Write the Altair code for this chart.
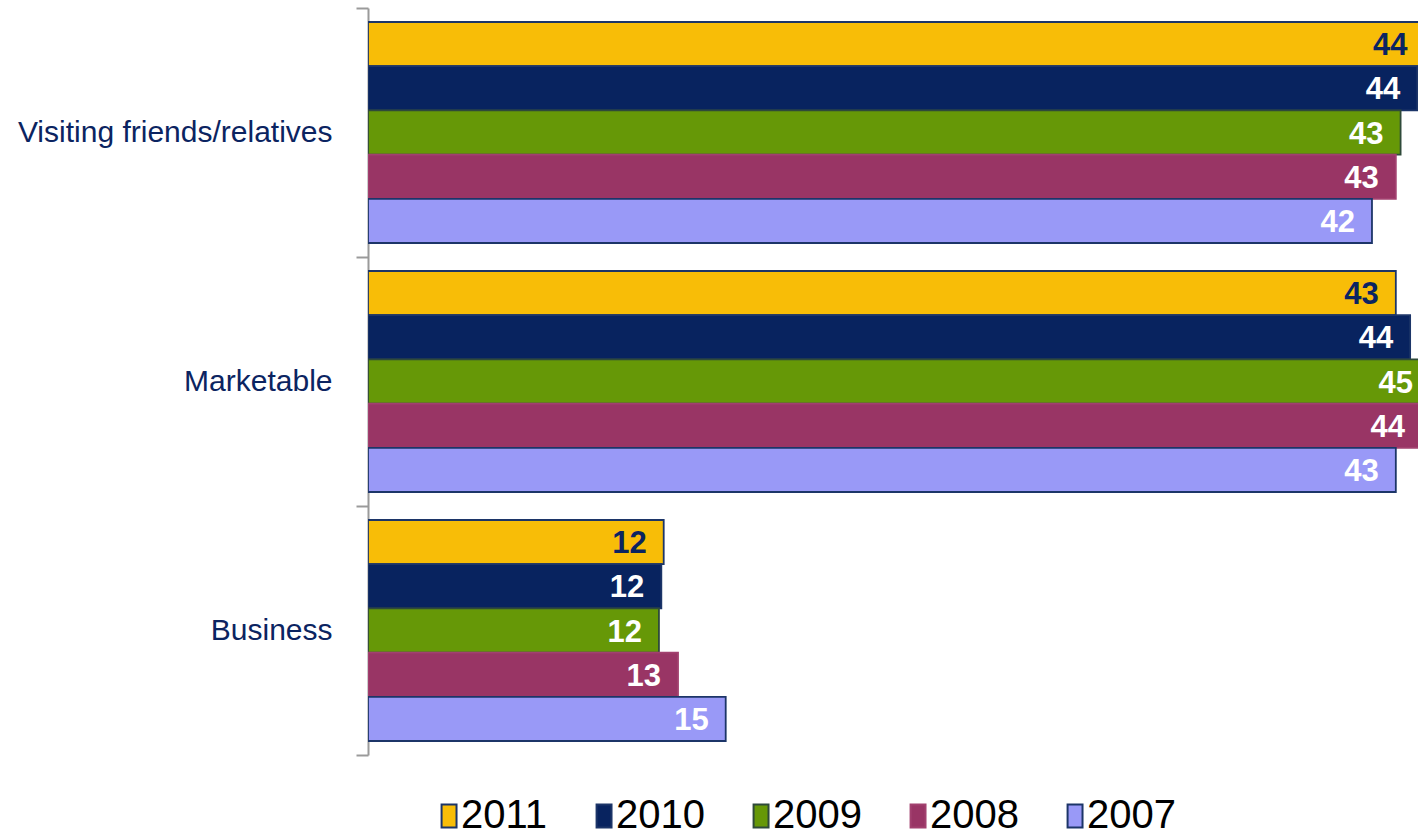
import altair as alt
import pandas as pd

categories = ["Visiting friends/relatives", "Marketable", "Business"]
years = ["2011", "2010", "2009", "2008", "2007"]
values_2011 = [44.3, 43.1, 12.4]
values_2010 = [44.0, 43.7, 12.3]
values_2009 = [43.3, 44.8, 12.2]
values_2008 = [43.1, 44.2, 13.0]
values_2007 = [42.1, 43.1, 15.0]

colors = ["#F8BD07", "#08235F", "#669807", "#993565", "#9999F7"]
strokes = ["#1C3568", "#1C3568", "#2F4A3A", "#A2416F", "#1C3568"]
NAVY = "#0B2461"
XMAX = 44.03

series = [values_2011, values_2010, values_2009, values_2008, values_2007]
rows = []
for y, vals in zip(years, series):
    for c, v in zip(categories, vals):
        rows.append({"Category": c, "Year": y, "Value": v})
df = pd.DataFrame(rows)

y_enc = alt.Y(
    "Category:N",
    sort=categories,
    scale=alt.Scale(paddingInner=0, paddingOuter=0),
    axis=alt.Axis(
        title=None,
        labelFont="Liberation Sans",
        labelFontSize=30,
        labelColor=NAVY,
        labelPadding=24,
        labelLimit=400,
        tickBand="extent",
        tickSize=12,
        tickColor="#9A9A9A",
        tickWidth=2,
        domainColor="#9A9A9A",
        domainWidth=2,
    ),
)
off_scale = alt.Scale(paddingInner=0, paddingOuter=0.317)
yoff = alt.YOffset("Year:N", sort=years, scale=off_scale)
x_scale = alt.Scale(domain=[0, XMAX], nice=False, zero=True)

bars = alt.Chart(df).mark_bar(clip=True, strokeWidth=1.8).encode(
    x=alt.X("Value:Q", scale=x_scale, axis=None),
    y=y_enc,
    yOffset=yoff,
    color=alt.Color(
        "Year:N",
        sort=years,
        scale=alt.Scale(domain=years, range=colors),
        legend=alt.Legend(title=None),
    ),
    stroke=alt.Stroke(
        "Year:N",
        sort=years,
        scale=alt.Scale(domain=years, range=strokes),
        legend=alt.Legend(title=None),
    ),
)

labels = alt.Chart(df).transform_calculate(
    LabelX=f"min(datum.Value, {XMAX} + 0.5)"
).mark_text(
    align="right",
    baseline="middle",
    dx=-17,
    dy=2,
    font="Liberation Sans",
    fontSize=31,
    fontWeight="bold",
).encode(
    x=alt.X("LabelX:Q", scale=x_scale, axis=None),
    y=alt.Y("Category:N", sort=categories),
    yOffset=alt.YOffset("Year:N", sort=years),
    text=alt.Text("Value:Q", format=".0f"),
    color=alt.condition(alt.datum.Year == "2011", alt.value(NAVY), alt.value("white")),
)

chart = (
    alt.layer(bars, labels)
    .properties(
        width=1050,
        height=747,
        autosize=alt.AutoSizeParams(type="none"),
        padding={"left": 368, "top": 8, "right": 0, "bottom": 77},
    )
    .configure_view(stroke=None)
    .configure_legend(
        orient="none",
        legendX=53,
        legendY=788,
        direction="horizontal",
        columns=5,
        symbolType="M0.05,-1H1.35V1H0.05Z",
        symbolSize=529,
        symbolStrokeWidth=2,
        labelFont="Liberation Sans",
        labelFontSize=40,
        labelColor="black",
        labelOffset=0,
        columnPadding=28,
        labelLimit=200,
    )
)

chart.save("out.html", embed_options={"renderer": "svg", "actions": False})
